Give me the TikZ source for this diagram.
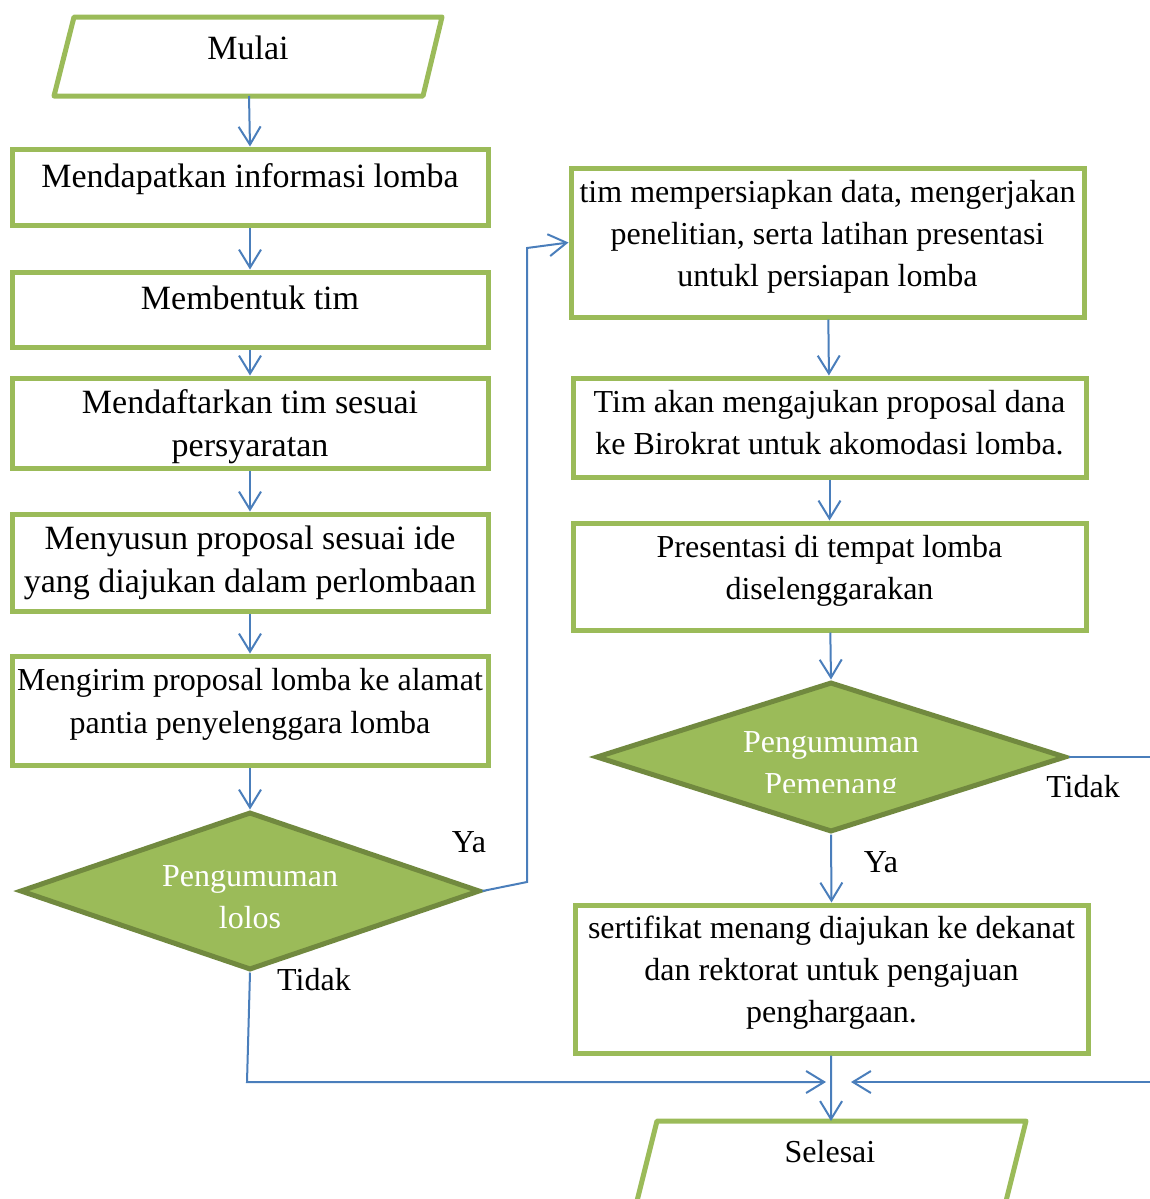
\documentclass[tikz,border=0pt]{standalone}
\usepackage{fontspec}
\setmainfont{Liberation Serif}
\usetikzlibrary{shapes.geometric,arrows.meta}

\definecolor{boxgreen}{HTML}{9BBB59}
\definecolor{darkgreen}{HTML}{71893F}
\definecolor{lineblue}{HTML}{4A7EBB}

\begin{document}
\begin{tikzpicture}[x=0.5pt, y=-0.5pt,
    box/.style={rectangle, draw=boxgreen, line width=2.5pt, inner sep=0pt, align=center},
    leftbox/.style={box, minimum width=238pt, font=\fontsize{17}{21.5}\selectfont},
    rightbox/.style={box, minimum width=256.5pt, font=\fontsize{16}{21}\selectfont, text depth=9.5pt},
    decision/.style={diamond, draw=darkgreen, fill=boxgreen, line width=2.5pt, inner sep=0pt},
    dtext/.style={align=center, text=white, font=\fontsize{16}{21}\selectfont},
    io/.style={draw=boxgreen, line width=2.5pt, line join=round},
    flow/.style={draw=lineblue, line width=1pt, -{Straight Barb[length=9pt, width=11pt]}},
    lbl/.style={font=\fontsize{16}{21}\selectfont}]

    \useasboundingbox (0,0) rectangle (1150,1199);
    \clip (0,0) rectangle (1150,1199);

    % Start
    \draw[io] (74,17) -- (442,17) -- (423,96) -- (54,96) -- cycle;
    \node[font=\fontsize{17}{21.5}\selectfont] (mulai) at (248,48) {Mulai};
    \coordinate (mulaibottom) at (249,96);

    % Left column
    \node[leftbox, minimum height=38pt, text depth=11.5pt] (info) at (250,187) {Mendapatkan informasi lomba};
    \node[leftbox, minimum height=37.5pt, text depth=12pt] (tim) at (250,309.5) {Membentuk tim};
    \node[leftbox, minimum height=45pt, text depth=0pt] (daftar) at (250,423) {Mendaftarkan tim sesuai\\persyaratan};
    \node[leftbox, minimum height=48.5pt] (susun) at (250,562.5) {Menyusun proposal sesuai ide\\yang diajukan dalam perlombaan};
    \node[leftbox, minimum height=54.5pt, text depth=9.5pt, font=\fontsize{16}{21.5}\selectfont] (kirim) at (250,710.5)
        {Mengirim proposal lomba ke alamat\\pantia penyelenggara lomba};

    % First decision
    \node[decision, minimum width=230pt, minimum height=79pt] (lolos) at (250,891) {};
    \node[dtext] (lolostext) at (250,897) {Pengumuman\\lolos};

    % Right column
    \node[rightbox, minimum height=74.5pt] (siap) at (827.5,242.5)
        {tim mempersiapkan data, mengerjakan\\penelitian, serta latihan presentasi\\untukl persiapan lomba};
    \node[rightbox, minimum height=49.5pt, text depth=5.5pt] (dana) at (829.5,427.5)
        {Tim akan mengajukan proposal dana\\ke Birokrat untuk akomodasi lomba.};
    \node[rightbox, minimum height=53.5pt] (presentasi) at (829.5,576.5)
        {Presentasi di tempat lomba\\diselenggarakan};

    % Second decision, text cut off at the bottom
    \node[decision, minimum width=235pt, minimum height=75pt] (menang) at (831,757) {};
    \begin{scope}
        \clip (680,700) rectangle (980,792);
        \node[dtext] (menangtext) at (831,766) {Pengumuman\\Pemenang};
    \end{scope}

    \node[rightbox, minimum height=74pt] (sertifikat) at (831.5,979)
        {sertifikat menang diajukan ke dekanat\\dan rektorat untuk pengajuan\\penghargaan.};

    % End
    \draw[io] (657,1121) -- (1026,1121) -- (1001,1221) -- (632,1221) -- cycle;
    \node[font=\fontsize{16}{21}\selectfont] (selesai) at (830,1152) {Selesai};
    \coordinate (selesaitop) at (831,1121);

    % Branch labels
    \node[lbl] (ya1) at (469,842) {Ya};
    \node[lbl] (tidak1) at (314,980) {Tidak};
    \node[lbl] (tidak2) at (1083,787) {Tidak};
    \node[lbl] (ya2) at (881,862) {Ya};

    % Bend points
    \coordinate (yalow) at (527,882);
    \coordinate (yahigh) at (527,248);
    \coordinate (lolosdown) at (247,1082);
    \coordinate (joinleft) at (826,1082);
    \coordinate (menangout) at (1170,757);
    \coordinate (menangdown) at (1170,1082);
    \coordinate (joinright) at (851,1082);

    % Connectors
    \draw[flow] (mulaibottom) -- (info.north);
    \draw[flow] (info) -- (tim);
    \draw[flow] (tim) -- (daftar);
    \draw[flow] (daftar) -- (susun);
    \draw[flow] (susun) -- (kirim);
    \draw[flow] (kirim) -- (lolos.north);
    \draw[flow] (lolos.east) -- (yalow) -- (yahigh) -- (siap.west);
    \draw[flow] (siap) -- (dana);
    \draw[flow] (dana) -- (presentasi);
    \draw[flow] (presentasi) -- (menang.north);
    \draw[flow] (menang.south) -- (sertifikat.north);
    \draw[flow] (sertifikat) -- (selesaitop);
    \draw[flow] (lolos.south) -- (lolosdown) -- (joinleft);
    \draw[flow] (menang.east) -- (menangout) -- (menangdown) -- (joinright);
\end{tikzpicture}
\end{document}
